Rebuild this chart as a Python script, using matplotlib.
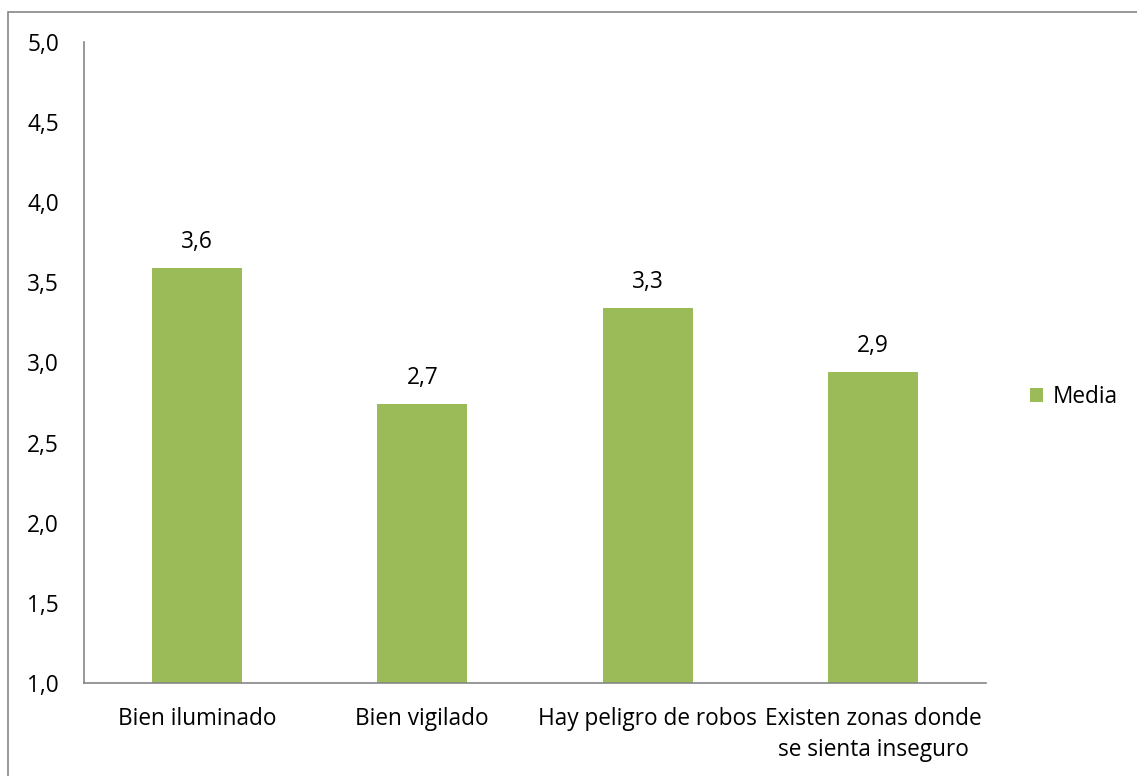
import numpy as np
import matplotlib.pyplot as plt
from matplotlib.patches import Rectangle

categories = ['Bien iluminado', 'Bien vigilado', 'Hay peligro de robos',
              'Existen zonas donde\nse sienta inseguro']
media = [3.59, 2.74, 3.34, 2.94]
yticks = [1.0, 1.5, 2.0, 2.5, 3.0, 3.5, 4.0, 4.5, 5.0]

plt.rcParams['font.family'] = ['Open Sans', 'DejaVu Sans']
fs = 16.3

fig = plt.figure(figsize=(11.37, 7.76), dpi=100)
ax = fig.add_axes([0.0739, 0.1199, 0.7933, 0.826])

# outer chart border
fig.patches.append(Rectangle((8 / 1137, -0.01), 1.2, 1 - 12 / 776 + 0.01,
                             transform=fig.transFigure, fill=False,
                             edgecolor='#868686', linewidth=1.2))

x = np.arange(len(categories))
ax.bar(x, media, width=0.4, color='#9BBB59', label='Media', zorder=2)

for xi, v in zip(x, media):
    ax.text(xi, v + 0.09, f'{v:.1f}'.replace('.', ','), ha='center', va='bottom',
            fontsize=fs)

ax.set_ylim(1.0, 5.0)
ax.set_xlim(-0.5, len(categories) - 0.5)
ax.set_yticks(yticks)
ax.set_yticklabels([f'{t:.1f}'.replace('.', ',') for t in yticks], fontsize=fs)
ax.set_xticks(x)
ax.set_xticklabels(categories, fontsize=fs, linespacing=1.4)
ax.tick_params(axis='both', length=0)
ax.tick_params(axis='y', pad=18)
ax.tick_params(axis='x', pad=17)

for s in ['top', 'right']:
    ax.spines[s].set_visible(False)
for s in ['left', 'bottom']:
    ax.spines[s].set_color('#868686')
    ax.spines[s].set_linewidth(1.2)

ax.legend(loc='center left', bbox_to_anchor=(1.026, 0.446), frameon=False,
          fontsize=fs, handlelength=0.6, handleheight=0.6, handletextpad=0.4)

fig.savefig('out.png', dpi=100)
